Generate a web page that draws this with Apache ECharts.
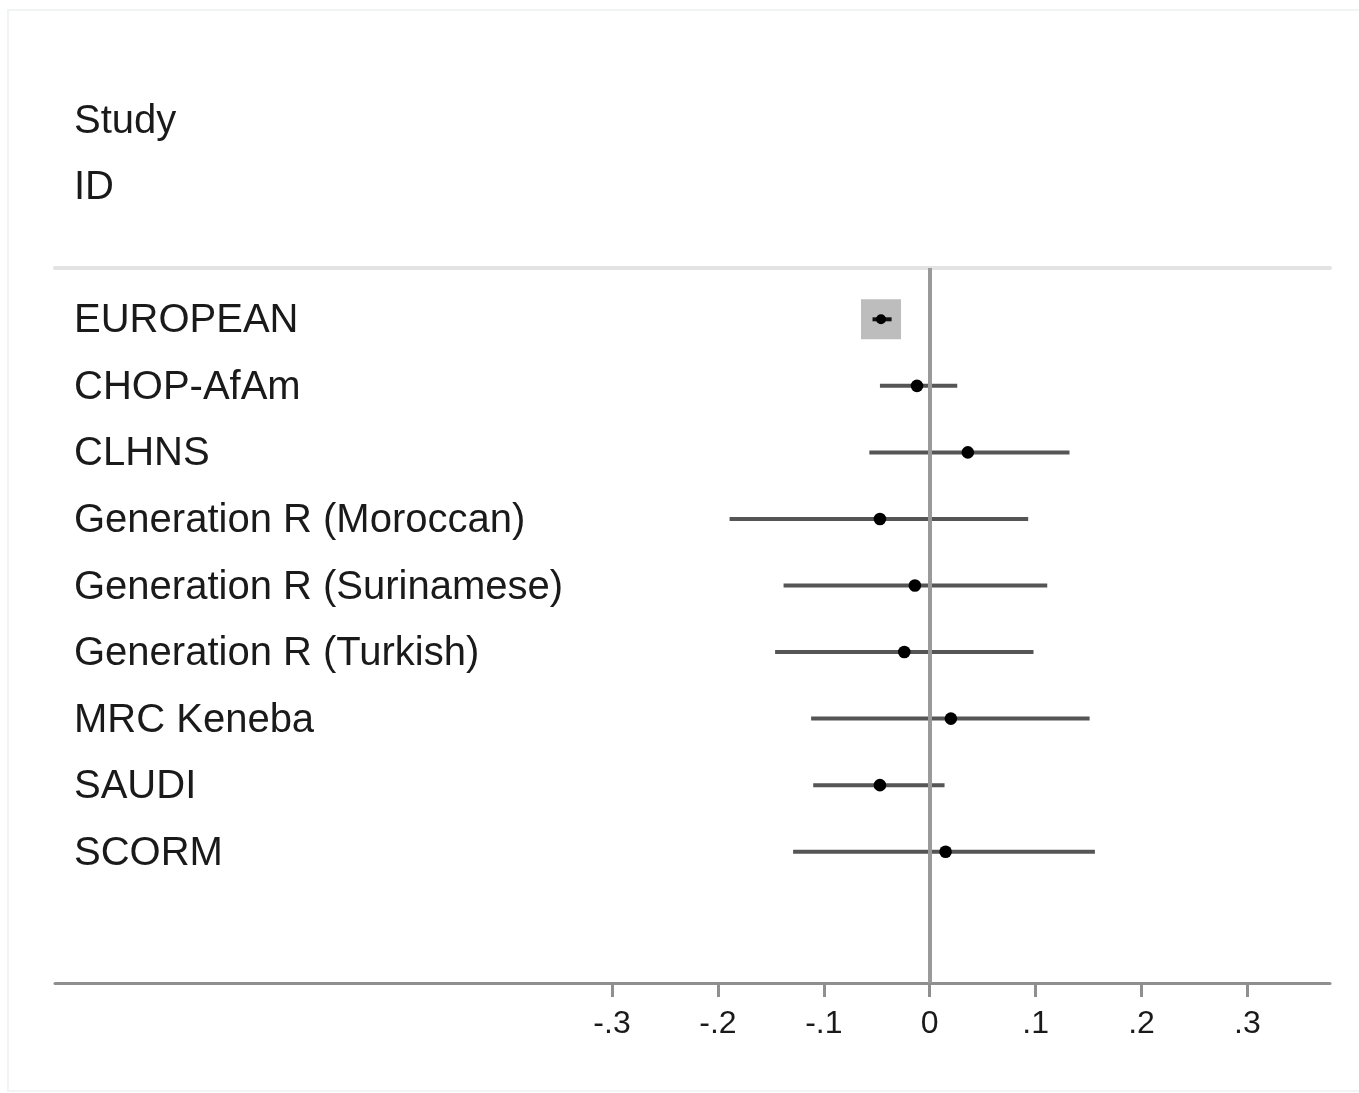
<!DOCTYPE html>
<html>
<head>
<meta charset="utf-8">
<script src="https://cdn.jsdelivr.net/npm/echarts@6/dist/echarts.min.js"></script>
<style>
  html, body { margin: 0; padding: 0; background: #fff; }
  #chart { width: 1359px; height: 1093px; }
</style>
</head>
<body>
<div id="chart"></div>
<script>
// study rows, top to bottom
var studies = ['EUROPEAN', 'CHOP-AfAm', 'CLHNS', 'Generation R (Moroccan)',
  'Generation R (Surinamese)', 'Generation R (Turkish)', 'MRC Keneba', 'SAUDI', 'SCORM'];
var estimates = [-0.046, -0.012, 0.036, -0.047, -0.014, -0.024, 0.020, -0.047, 0.015];
var lowerCI   = [-0.054, -0.047, -0.057, -0.189, -0.138, -0.146, -0.112, -0.110, -0.129];
var upperCI   = [-0.036, 0.026, 0.132, 0.093, 0.111, 0.098, 0.151, 0.014, 0.156];
var weights   = [87.5, 3.5, 1.5, 1.1, 1.1, 1.1, 1.1, 2.5, 1.1]; // % weight, drawn as box area
var tickValues = [-0.3, -0.2, -0.1, 0, 0.1, 0.2, 0.3];
var headerLines = ['Study', 'ID'];

var FONT = 'Liberation Sans';
var TEXT = '#1a1a1a';
var maxWeight = Math.max.apply(null, weights);

var rows = studies.map(function (s, i) {
  return [i, lowerCI[i], estimates[i], upperCI[i], weights[i]];
});

function tickFmt(v) {
  if (v === 0) return '0';
  return (v < 0 ? '-' : '') + String(Math.abs(v)).replace(/^0/, '');
}

var chart = echarts.init(document.getElementById('chart'));

var option = {
  backgroundColor: '#fff',
  animation: false,
  graphic: [{
    type: 'rect', silent: true,
    shape: { x: 8, y: 10, width: 1400, height: 1081 },
    style: { fill: 'none', stroke: '#f0f4f5', lineWidth: 2 }
  }].concat(headerLines.map(function (t, i) {
    return {
      type: 'text', x: 74, y: 122 + i * 66,
      style: { text: t, fontSize: 40, fontFamily: FONT, fill: TEXT, verticalAlign: 'middle' }
    };
  })),
  grid: { left: 55, right: 29, top: 268, bottom: 110, containLabel: false },
  xAxis: [{
    type: 'value', min: -0.826, max: 0.378, position: 'bottom',
    axisLine: { onZero: false, lineStyle: { color: '#8f8f8f', width: 3 } },
    axisTick: { show: true, customValues: tickValues, length: 14, lineStyle: { color: '#8f8f8f', width: 3 } },
    axisLabel: { customValues: tickValues, formatter: tickFmt, margin: 25, fontSize: 32, color: TEXT, fontFamily: FONT },
    splitLine: { show: false }
  }, {
    type: 'value', min: -0.826, max: 0.378, position: 'top',
    axisLine: { onZero: false, lineStyle: { color: '#e3e3e3', width: 4 } },
    axisTick: { show: false }, axisLabel: { show: false }, splitLine: { show: false }
  }],
  yAxis: {
    type: 'value', inverse: true, min: -0.771, max: 9.973, show: false,
    axisLine: { onZero: false }
  },
  series: [{
    type: 'custom',
    xAxisIndex: 0,
    data: rows,
    clip: false,
    renderItem: function (params, api) {
      var i = api.value(0);
      var lo = api.coord([api.value(1), i]);
      var est = api.coord([api.value(2), i]);
      var hi = api.coord([api.value(3), i]);
      var side = 40 * Math.sqrt(api.value(4) / maxWeight);
      var isBig = side > 20;
      var children = [];
      children.push({
        type: 'rect',
        shape: { x: est[0] - side / 2, y: est[1] - side / 2, width: side, height: side },
        style: { fill: '#bdbdbd' }
      });
      children.push({
        type: 'line',
        shape: { x1: lo[0], y1: lo[1], x2: hi[0], y2: hi[1] },
        style: { stroke: isBig ? '#111' : '#555', lineWidth: 4 }
      });
      children.push({
        type: 'circle',
        shape: { cx: est[0], cy: est[1], r: isBig ? 5 : 6.3 },
        style: { fill: '#000' }
      });
      children.push({
        type: 'text',
        x: params.coordSys.x + 19, y: est[1] + 2,
        style: {
          text: studies[params.dataIndex], fontSize: 40, fontFamily: FONT,
          fill: TEXT, verticalAlign: 'middle', align: 'left'
        }
      });
      return { type: 'group', children: children };
    },
    markLine: {
      silent: true, symbol: 'none', label: { show: false },
      lineStyle: { color: '#9a9a9a', width: 4, type: 'solid' },
      data: [{ xAxis: 0 }]
    },
    z: 3
  }]
};

chart.setOption(option);
window.addEventListener('resize', function () { chart.resize(); });
</script>
</body>
</html>
